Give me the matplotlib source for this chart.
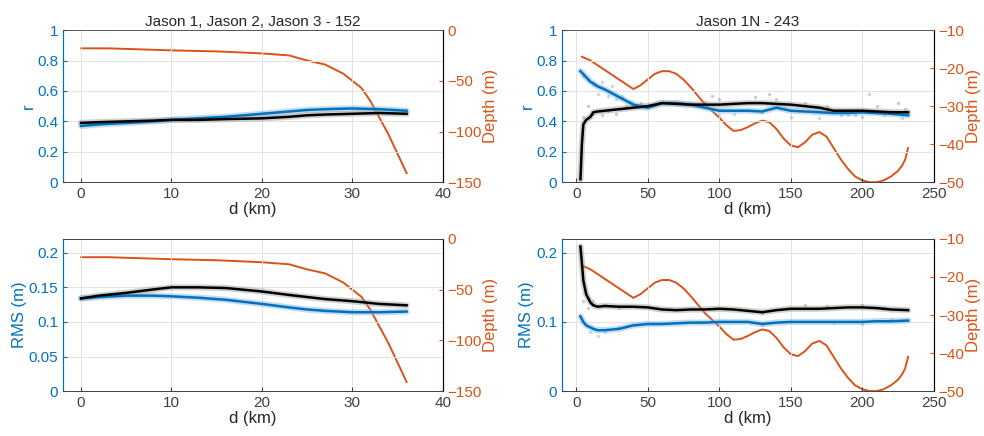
import matplotlib
matplotlib.use("Agg")
import matplotlib.pyplot as plt

plt.rcParams['font.family'] = ['Liberation Sans', 'DejaVu Sans']

BLUE = '#0072BD'
ORANGE = '#D95319'

# ---- left column: Jason 1, Jason 2, Jason 3 - 152 ----
d_left = [0, 2, 5, 8, 10, 13, 16, 20, 23, 25, 27, 30, 33, 36]
r_blue_left = [0.37, 0.38, 0.39, 0.40, 0.41, 0.42, 0.43, 0.45, 0.465, 0.475, 0.48, 0.485, 0.48, 0.47]
r_black_left = [0.39, 0.395, 0.40, 0.405, 0.41, 0.41, 0.415, 0.42, 0.43, 0.44, 0.445, 0.45, 0.455, 0.45]
rms_black_left = [0.134, 0.138, 0.142, 0.147, 0.150, 0.150, 0.149, 0.144, 0.139, 0.136, 0.133, 0.130, 0.126, 0.124]
rms_blue_left = [0.134, 0.136, 0.138, 0.138, 0.137, 0.135, 0.132, 0.126, 0.121, 0.118, 0.116, 0.114, 0.114, 0.115]
depth_d_left = [0, 3, 10, 15, 20, 23, 25, 27, 29, 30, 31, 32, 34, 36]
depth_left = [-18, -18, -20, -21, -23, -25, -30, -34, -43, -50, -57, -70, -103, -141]

# ---- right column: Jason 1N - 243 ----
d_right = [3, 4, 5, 7, 10, 12, 15, 20, 30, 40, 50, 60, 70, 80, 90, 100, 110, 120, 130,
           140, 150, 160, 170, 180, 190, 200, 210, 220, 232]
r_blue_right = [0.73, 0.72, 0.71, 0.69, 0.66, 0.65, 0.63, 0.61, 0.56, 0.51, 0.49, 0.52, 0.52, 0.51,
                0.49, 0.47, 0.47, 0.47, 0.465, 0.49, 0.47, 0.465, 0.46, 0.455, 0.455, 0.46, 0.455, 0.45, 0.44]
r_black_right = [0.02, 0.25, 0.38, 0.41, 0.43, 0.46, 0.465, 0.47, 0.48, 0.49, 0.50, 0.52, 0.515, 0.51,
                 0.51, 0.51, 0.515, 0.52, 0.52, 0.515, 0.51, 0.50, 0.49, 0.47, 0.47, 0.47, 0.465, 0.46, 0.46]
rms_black_right = [0.209, 0.185, 0.16, 0.14, 0.128, 0.124, 0.122, 0.123, 0.122, 0.122, 0.121, 0.118, 0.117,
                   0.118, 0.118, 0.119, 0.118, 0.116, 0.114, 0.117, 0.119, 0.119, 0.119, 0.120, 0.121,
                   0.121, 0.120, 0.118, 0.117]
rms_blue_right = [0.108, 0.104, 0.100, 0.095, 0.092, 0.090, 0.088, 0.088, 0.090, 0.095, 0.097, 0.097,
                  0.098, 0.099, 0.099, 0.100, 0.100, 0.100, 0.097, 0.099, 0.100, 0.100, 0.100, 0.100,
                  0.100, 0.100, 0.101, 0.101, 0.102]
depth_d_right = [4, 10, 20, 30, 40, 45, 50, 55, 60, 65, 70, 75, 80, 90, 100, 105, 110, 115, 120, 125,
                 130, 135, 140, 145, 150, 155, 160, 165, 170, 175, 180, 185, 190, 195, 200, 205, 210,
                 215, 220, 225, 228, 230, 232]
depth_right = [-17, -18, -20.5, -23, -25.5, -24.5, -23, -21.5, -20.8, -20.8, -21.5, -23, -25, -29.5,
               -33, -35, -36.5, -36.3, -35.5, -34.5, -33.8, -34.2, -36, -38.5, -40.3, -40.8, -39.5,
               -37.5, -36.8, -38, -41, -44, -46.5, -48.5, -49.5, -50, -50, -49.5, -48.5, -47, -45.5,
               -44, -41]

# hand-read scatter points around the lines (right column)
sc_r_blue_d = [5, 8, 12, 15, 18, 22, 25, 28, 32, 38, 45, 100, 110, 130, 150, 170, 190, 200, 205, 215, 228]
sc_r_blue = [0.70, 0.68, 0.64, 0.58, 0.66, 0.57, 0.63, 0.55, 0.57, 0.53, 0.50, 0.44, 0.45, 0.46, 0.43,
             0.42, 0.44, 0.43, 0.58, 0.44, 0.42]
sc_r_grey_d = [5, 8, 12, 18, 22, 28, 35, 45, 90, 95, 100, 125, 135, 140, 160, 175, 185, 195, 210, 225, 230]
sc_r_grey = [0.43, 0.50, 0.45, 0.44, 0.47, 0.45, 0.50, 0.52, 0.53, 0.57, 0.55, 0.56, 0.58, 0.55, 0.52,
             0.50, 0.44, 0.44, 0.50, 0.52, 0.48]
sc_rms_grey_d = [5, 8, 12, 20, 30, 130, 160, 175, 200, 215]
sc_rms_grey = [0.13, 0.12, 0.13, 0.125, 0.12, 0.113, 0.125, 0.123, 0.125, 0.12]
sc_rms_blue_d = [10, 15, 20, 30, 130, 180, 200, 220]
sc_rms_blue = [0.085, 0.080, 0.085, 0.092, 0.095, 0.098, 0.097, 0.104]

titles = ['Jason 1, Jason 2, Jason 3 - 152', 'Jason 1N - 243']


def style_axes(ax, ax2):
    ax.tick_params(direction='in', labelsize=11, colors=BLUE, length=3)
    ax.tick_params(axis='x', colors='#404040')
    ax2.tick_params(direction='in', labelsize=11, colors=ORANGE, length=3)
    ax.spines['left'].set_color(BLUE)
    ax2.spines['left'].set_color(BLUE)
    ax2.spines['right'].set_color(ORANGE)
    for a in (ax, ax2):
        a.spines['top'].set_color('#404040')
        a.spines['bottom'].set_color('#404040')
        a.spines['top'].set_linewidth(0.6)
        a.spines['bottom'].set_linewidth(0.6)
    ax.grid(True, color='#e3e3e3', linewidth=0.7)
    ax.set_axisbelow(True)
    ax.set_xlabel('d (km)', fontsize=12, color='#262626', labelpad=1)


def panel(pos, d, blue, black, dd, depth, ylim, yticks, ylabel, xlim, xticks,
          dlim, dticks, title=None, scat=None):
    ax = fig.add_axes(pos)
    ax2 = ax.twinx()
    ax.set_zorder(2)
    ax.patch.set_visible(False)
    ax2.plot(dd, depth, color=ORANGE, lw=1.4)
    ax2.set_ylim(*dlim)
    ax2.set_yticks(dticks)
    ax2.set_ylabel('Depth (m)', fontsize=12, color=ORANGE, labelpad=1)
    if scat is not None:
        ax.scatter(scat[0], scat[1], s=6, color=BLUE, alpha=0.25, linewidths=0)
        ax.scatter(scat[2], scat[3], s=6, color='#555555', alpha=0.3, linewidths=0)
    ax.plot(d, blue, color='#7fb5e0', lw=4.5, alpha=0.45, solid_capstyle='round')
    ax.plot(d, black, color='#9a9a9a', lw=4.5, alpha=0.45, solid_capstyle='round')
    ax.plot(d, blue, color=BLUE, lw=1.8)
    ax.plot(d, black, color='black', lw=1.8)
    ax.set_xlim(*xlim)
    ax.set_xticks(xticks)
    ax.set_ylim(*ylim)
    ax.set_yticks(yticks)
    ax.set_yticklabels([('%g' % t) for t in yticks])
    ax.set_ylabel(ylabel, fontsize=12, color=BLUE, labelpad=1)
    if title:
        ax.set_title(title, fontsize=11, color='#262626', pad=3)
    style_axes(ax, ax2)
    return ax


fig = plt.figure(figsize=(9.84, 4.36), dpi=100)

lx, rx, wl, wr = 0.064, 0.571, 0.386, 0.378
ty, by, h = 0.582, 0.103, 0.349

panel([lx, ty, wl, h], d_left, r_blue_left, r_black_left, depth_d_left, depth_left,
      (0, 1), [0, 0.2, 0.4, 0.6, 0.8, 1], 'r', (-2, 40), [0, 10, 20, 30, 40],
      (-150, 0), [-150, -100, -50, 0], title=titles[0])
panel([rx, ty, wr, h], d_right, r_blue_right, r_black_right, depth_d_right, depth_right,
      (0, 1), [0, 0.2, 0.4, 0.6, 0.8, 1], 'r', (-10, 250), [0, 50, 100, 150, 200, 250],
      (-50, -10), [-50, -40, -30, -20, -10], title=titles[1],
      scat=(sc_r_blue_d, sc_r_blue, sc_r_grey_d, sc_r_grey))
panel([lx, by, wl, h], d_left, rms_blue_left, rms_black_left, depth_d_left, depth_left,
      (0, 0.22), [0, 0.05, 0.1, 0.15, 0.2], 'RMS (m)', (-2, 40), [0, 10, 20, 30, 40],
      (-150, 0), [-150, -100, -50, 0])
panel([rx, by, wr, h], d_right, rms_blue_right, rms_black_right, depth_d_right, depth_right,
      (0, 0.22), [0, 0.1, 0.2], 'RMS (m)', (-10, 250), [0, 50, 100, 150, 200, 250],
      (-50, -10), [-50, -40, -30, -20, -10],
      scat=(sc_rms_blue_d, sc_rms_blue, sc_rms_grey_d, sc_rms_grey))

fig.savefig('out.png', dpi=100)
